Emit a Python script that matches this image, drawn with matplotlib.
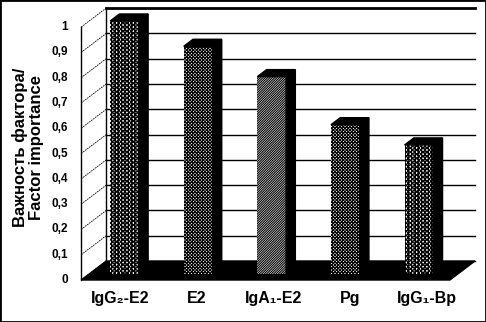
import matplotlib
matplotlib.use("Agg")
import matplotlib.pyplot as plt
from matplotlib.patches import Rectangle, Polygon

plt.rcParams["font.family"] = ["Liberation Sans", "DejaVu Sans"]
plt.rcParams["font.weight"] = "bold"
plt.rcParams["hatch.linewidth"] = 0.8

categories = ["IgG\u2082-E2", "E2", "IgA\u2081-E2", "Pg", "IgG\u2081-Bp"]
values = [1.0, 0.9, 0.78, 0.59, 0.51]
hatches = ["x" * 8 + "|" * 5, "x" * 10, "/" * 14, "x" * 10, "x" * 8 + "|" * 5]
y_ticks = [0, 0.1, 0.2, 0.3, 0.4, 0.5, 0.6, 0.7, 0.8, 0.9, 1.0]
y_labels = ["0", "0,1", "0,2", "0,3", "0,4", "0,5", "0,6", "0,7", "0,8", "0,9", "1"]
y_title = "Важность фактора/\nFactor importance"

# 3d look: depth offset of the back wall, in data units
DX, DY = 0.34, 0.075
X0, X1 = -0.48, 4.53      # floor left / right in category units
BAR_W = 0.39
F, D = 0.32, 0.37          # bar front position and bar depth (fraction of wall depth)

fig = plt.figure(figsize=(4.86, 3.22), dpi=100)
ax = fig.add_axes([0, 0, 1, 1])
ax.set_xlim(-1.583, 5.02)
ax.set_ylim(-0.166, 1.107)
ax.axis("off")

# back wall gridlines
for v in y_ticks:
    lw = 2 if v == 1.0 else 1
    ax.plot([X0 + DX, X1 + DX], [v + DY, v + DY], color="black", lw=lw, zorder=1)
ax.plot([X0 + DX, X0 + DX], [DY, 1 + DY], color="black", lw=1, zorder=1)

# left wall: diagonal dotted lines and front axis
for v in y_ticks:
    ax.plot([X0, X0 + DX], [v, v + DY], color="black", lw=0.6, ls=(0, (2, 1)), zorder=1)
ax.plot([X0, X0], [0, 1], color="black", lw=1, zorder=1)

# floor
ax.add_patch(Polygon([(X0, 0), (X1, 0), (X1 + DX, DY), (X0 + DX, DY)],
                     closed=True, facecolor="black", edgecolor="black", zorder=2))

# bars
for i, (v, h) in enumerate(zip(values, hatches)):
    left = i - BAR_W / 2 + F * DX
    right = left + BAR_W
    base = F * DY
    ax.add_patch(Rectangle((left, base), BAR_W, v, facecolor="white",
                           edgecolor="black", hatch=h, lw=0, zorder=3))
    ax.add_patch(Polygon([(right, base), (right + D * DX, base + D * DY),
                          (right + D * DX, base + v + D * DY), (right, base + v)],
                         closed=True, facecolor="black", edgecolor="black", zorder=3))
    ax.add_patch(Polygon([(left, base + v), (right, base + v),
                          (right + D * DX, base + v + D * DY), (left + D * DX, base + v + D * DY)],
                         closed=True, facecolor="black", edgecolor="black", zorder=3))
    ax.text(i * 1.04 + 0.05, -0.075, categories[i], ha="center", va="center",
            fontsize=11.5, fontweight="bold")

for v, lab in zip(y_ticks, y_labels):
    ax.text(X0 - 0.18, v, lab, ha="right", va="center", fontsize=8.5, fontweight="bold")

fig.text(28 / 486, 175 / 322, y_title, rotation=90, ha="center", va="center",
         multialignment="center", fontsize=12, fontweight="bold", linespacing=1.1)

fig.add_artist(Rectangle((0, 0), 1, 1, transform=fig.transFigure, fill=False,
                         edgecolor="black", lw=2))

fig.savefig("out.png", dpi=100)
plt.close()
